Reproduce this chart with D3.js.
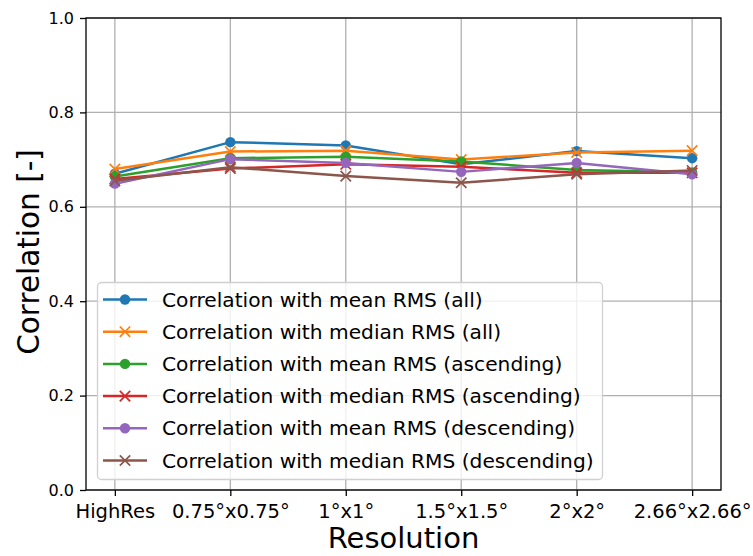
<!DOCTYPE html>
<html>
<head>
<meta charset="utf-8">
<script src="https://cdn.jsdelivr.net/npm/d3@7"></script>
<style>
  html, body { margin: 0; padding: 0; background: #fff; }
  svg { display: block; font-family: "DejaVu Sans", sans-serif; }
</style>
</head>
<body>
<svg id="chart" width="753" height="556"></svg>
<script>
const categories = ["HighRes", "0.75°x0.75°", "1°x1°", "1.5°x1.5°", "2°x2°", "2.66°x2.66°"];
const yTicks = [0.0, 0.2, 0.4, 0.6, 0.8, 1.0];

const meanAll        = [0.670, 0.737, 0.730, 0.690, 0.718, 0.703];
const medianAll      = [0.680, 0.717, 0.719, 0.700, 0.715, 0.719];
const meanAscending  = [0.664, 0.703, 0.706, 0.696, 0.678, 0.673];
const medianAscending= [0.659, 0.681, 0.690, 0.685, 0.672, 0.672];
const meanDescending = [0.649, 0.701, 0.693, 0.674, 0.693, 0.669];
const medianDescending=[0.655, 0.684, 0.665, 0.651, 0.669, 0.677];

const seriesNames = [
  "Correlation with mean RMS (all)",
  "Correlation with median RMS (all)",
  "Correlation with mean RMS (ascending)",
  "Correlation with median RMS (ascending)",
  "Correlation with mean RMS (descending)",
  "Correlation with median RMS (descending)"
];
const seriesValues = [meanAll, medianAll, meanAscending, medianAscending, meanDescending, medianDescending];
const seriesMarkers = ["o", "x", "o", "x", "o", "x"];
const colors = ["#1f77b4", "#ff7f0e", "#2ca02c", "#d62728", "#9467bd", "#8c564b"];

const svg = d3.select("#chart");
const L = 86, R = 721, T = 18, B = 490;

const x = d3.scaleLinear().domain([-0.25, categories.length - 1 + 0.25]).range([L, R]);
const y = d3.scaleLinear().domain([0, 1]).range([B, T]);

// grid
const grid = svg.append("g");
categories.forEach((c, i) => {
  grid.append("line").attr("x1", x(i)).attr("x2", x(i)).attr("y1", T).attr("y2", B)
    .attr("stroke", "#b0b0b0").attr("stroke-width", 1.3);
});
yTicks.forEach(t => {
  grid.append("line").attr("x1", L).attr("x2", R).attr("y1", y(t)).attr("y2", y(t))
    .attr("stroke", "#b0b0b0").attr("stroke-width", 1.3);
});

// axes
const xAxis = d3.axisBottom(x).tickValues(d3.range(categories.length))
  .tickFormat(i => categories[i]).tickSize(6).tickPadding(8);
const gx = svg.append("g").attr("transform", `translate(0,${B})`).call(xAxis);
gx.select(".domain").remove();
gx.selectAll(".tick line").attr("stroke", "#000").attr("stroke-width", 1.3);
gx.selectAll(".tick text").attr("fill", "#000").style("font-size", "19.5px")
  .style("font-family", "DejaVu Sans");

const yAxis = d3.axisLeft(y).tickValues(yTicks).tickFormat(d3.format(".1f")).tickSize(6).tickPadding(6);
const gy = svg.append("g").attr("transform", `translate(${L},0)`).call(yAxis);
gy.select(".domain").remove();
gy.selectAll(".tick line").attr("stroke", "#000").attr("stroke-width", 1.3);
gy.selectAll(".tick text").attr("fill", "#000").style("font-size", "16px")
  .style("font-family", "DejaVu Sans");

// spines
svg.append("rect").attr("x", L).attr("y", T).attr("width", R - L).attr("height", B - T)
  .attr("fill", "none").attr("stroke", "#000").attr("stroke-width", 1.3);

// series
const line = d3.line().x((d, i) => x(i)).y(d => y(d));
function drawMarker(g, type, cx, cy, color, r) {
  if (type === "o") {
    g.append("circle").attr("cx", cx).attr("cy", cy).attr("r", r).attr("fill", color);
  } else {
    const s = r;
    g.append("path").attr("d", `M${cx - s},${cy - s}L${cx + s},${cy + s}M${cx - s},${cy + s}L${cx + s},${cy - s}`)
      .attr("stroke", color).attr("stroke-width", 1.7).attr("fill", "none");
  }
}
seriesValues.forEach((vals, si) => {
  const g = svg.append("g");
  g.append("path").datum(vals).attr("d", line).attr("fill", "none")
    .attr("stroke", colors[si]).attr("stroke-width", 2.5).attr("stroke-linejoin", "round");
  vals.forEach((v, i) => drawMarker(g, seriesMarkers[si], x(i), y(v), colors[si], 5.2));
});

// legend
const lg = svg.append("g");
lg.append("rect").attr("x", 97.5).attr("y", 282.5).attr("width", 505).attr("height", 197)
  .attr("rx", 4).attr("fill", "rgba(255,255,255,0.8)").attr("stroke", "#d0d0d0").attr("stroke-width", 1.3);
seriesNames.forEach((name, si) => {
  const cy = 299.5 + si * 32.2;
  lg.append("line").attr("x1", 103).attr("x2", 147).attr("y1", cy).attr("y2", cy)
    .attr("stroke", colors[si]).attr("stroke-width", 2.5);
  drawMarker(lg, seriesMarkers[si], 125, cy, colors[si], 5.2);
  lg.append("text").attr("x", 162).attr("y", cy + 7).text(name)
    .attr("fill", "#000").style("font-size", "20.2px");
});

// axis labels
svg.append("text").attr("x", (L + R) / 2).attr("y", 548).attr("text-anchor", "middle")
  .style("font-size", "29px").attr("fill", "#000").text("Resolution");
svg.append("text").attr("transform", `translate(39,${(T + B) / 2 - 2}) rotate(-90)`)
  .attr("text-anchor", "middle").style("font-size", "29.5px").attr("fill", "#000").text("Correlation [-]");
</script>
</body>
</html>
